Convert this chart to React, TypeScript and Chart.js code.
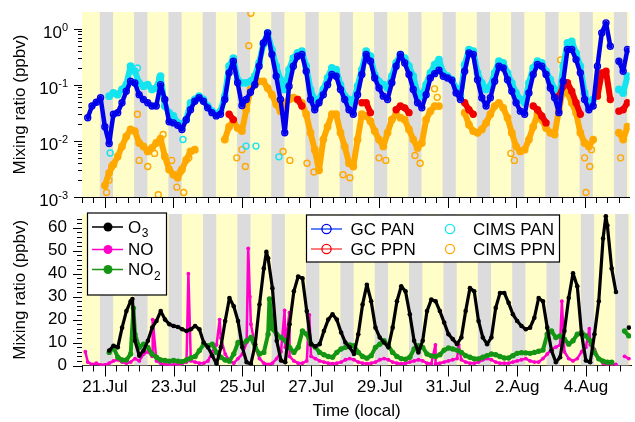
import { useEffect, useRef } from "react";
import { Chart, registerables } from "chart.js";

Chart.register(...registerables);

const FONT = "'Liberation Sans', Arial, Helvetica, sans-serif";

// Time axis: days since 21 Jul 00:00 (local time)
const X_MIN = -0.667;
const X_MAX = 15.313;
const T0 = -0.5; // first sample: 20 Jul 12:00
const DT = 0.125; // 3-hour sampling

const xTickDays = [0, 2, 4, 6, 8, 10, 12, 14];
const xTickLabels = ["21.Jul", "23.Jul", "25.Jul", "27.Jul", "29.Jul", "31.Jul", "2.Aug", "4.Aug"];
const logTickExps = [0, -1, -2, -3];
const linTicks = [0, 10, 20, 30, 40, 50, 60];
const NIGHT_START_H = 20.5;
const NIGHT_END_H = 5.75;

const n = null;

// ---- top panel (ppbv, log) ----
const gcPan = [
  0.026, 0.042, 0.049, 0.059, 0.018, 0.009, 0.030, 0.032, 0.048, 0.077,
  0.116, 0.108, 0.067, 0.055, 0.048, 0.042, 0.042, 0.101, 0.055, 0.022,
  0.021, 0.019, 0.016, 0.024, 0.036, 0.051, 0.059, 0.051, 0.039, 0.032,
  0.028, 0.030, 0.055, 0.164, 0.265, 0.109, 0.043, 0.055, 0.074, 0.101,
  0.216, 0.562, 0.848, 0.348, 0.143, 0.055, 0.014, 0.095, 0.216, 0.325,
  0.348, 0.175, 0.055, 0.036, 0.048, 0.067, 0.101, 0.153, 0.143, 0.083,
  0.055, 0.036, 0.030, 0.067, 0.153, 0.348, 0.265, 0.133, 0.088, 0.063,
  0.055, 0.109, 0.216, 0.348, 0.247, 0.153, 0.083, 0.048, 0.039, 0.067,
  0.133, 0.159, 0.183, 0.143, 0.133, 0.121, 0.072, 0.055, 0.175, 0.373,
  0.348, 0.124, 0.059, 0.042, 0.059, 0.116, 0.216, 0.201, 0.124, 0.077,
  0.048, 0.034, 0.030, 0.072, 0.153, 0.231, 0.216, 0.153, 0.088, 0.059,
  0.032, 0.116, 0.428, 0.428, 0.283, 0.164, 0.055, 0.036, 0.042, 0.216,
  0.848, 1.28, 0.49, n, 0.265, 0.175, 0.428,
];

const gcPpn = [
  n, n, n, n, n, n, n, n, n, n,
  n, n, n, n, n, n, n, n, n, n,
  n, n, n, n, n, n, n, n, n, n,
  n, n, n, 0.030, 0.024, n, n, n, n, n,
  n, n, n, n, n, n, n, n, n, 0.055,
  0.042, n, n, n, n, n, n, n, n, n,
  n, n, n, n, 0.048, 0.048, 0.032, n, n, n,
  n, n, 0.036, 0.042, 0.039, 0.032, n, n, n, n,
  n, n, n, n, n, n, n, n, 0.048, 0.036,
  0.030, n, n, n, n, n, n, n, n, n,
  n, n, n, n, 0.042, 0.036, 0.028, 0.021, n, n,
  0.063, 0.095, 0.109, 0.077, 0.048, 0.030, n, n, n, 0.063,
  0.164, 0.175, 0.055, n, 0.034, 0.036, 0.048,
];

const cimsPan = [
  n, n, n, n, n, 0.063, 0.072, 0.067, 0.083, 0.101,
  0.216, 0.175, 0.109, 0.095, 0.101, 0.083, 0.088, 0.143, 0.042, 0.032,
  0.028, 0.021, 0.020, 0.024, 0.048, 0.055, 0.063, 0.055, 0.042, 0.034,
  0.030, 0.034, 0.063, 0.216, 0.300, 0.124, 0.109, 0.109, 0.116, 0.143,
  0.247, 0.525, 0.848, 0.428, 0.216, 0.124, 0.083, 0.188, 0.300, 0.373,
  0.400, 0.216, 0.083, 0.055, 0.055, 0.083, 0.133, 0.201, 0.188, 0.101,
  0.063, 0.055, 0.048, 0.095, 0.188, 0.400, 0.325, 0.153, 0.116, 0.101,
  0.088, 0.143, 0.247, 0.348, 0.300, 0.216, 0.143, 0.072, 0.063, 0.101,
  0.164, 0.231, 0.283, 0.164, 0.143, 0.124, 0.088, 0.063, 0.231, 0.428,
  0.400, 0.164, 0.109, 0.083, 0.095, 0.164, 0.265, 0.247, 0.164, 0.109,
  0.072, 0.055, 0.048, 0.109, 0.201, 0.265, 0.247, 0.175, 0.124, 0.083,
  0.055, 0.216, 0.562, 0.600, 0.373, 0.216, 0.072, 0.042, 0.055, n,
  n, n, n, n, 0.083, 0.072, 0.143,
];
const cimsPanOut = [[0.155, 0.0061], [2.28, 0.0106], [4.12, 0.0081], [4.41, 0.0081], [5.08, 0.0052], [0.95, 0.2], [1.6, 0.13]];

const cimsPpn = [
  n, n, n, n, 0.0016, 0.0027, 0.0038, 0.0053, 0.008, 0.012,
  0.016, 0.015, 0.0092, 0.008, 0.0065, 0.0075, 0.0092, 0.011, 0.0053, 0.0031,
  0.0025, 0.0022, 0.0031, 0.0046, 0.0065, 0.007, n, n, n, n,
  n, n, 0.0106, 0.018, 0.0225, 0.017, 0.015, 0.036, 0.083, 0.101,
  0.116, 0.116, 0.088, 0.067, 0.045, 0.034, 0.048, 0.055, 0.059, 0.055,
  0.048, 0.030, 0.014, 0.007, 0.003, 0.0106, 0.018, 0.030, 0.030, 0.014,
  0.008, 0.004, 0.0035, 0.0106, 0.030, 0.028, 0.0225, 0.015, 0.0106, 0.008,
  0.014, 0.024, 0.030, 0.026, 0.024, 0.016, 0.0106, 0.0075, 0.0092, 0.024,
  0.034, 0.042, 0.042, n, n, n, n, n, 0.032, 0.0195,
  0.015, 0.014, 0.016, 0.021, 0.030, 0.042, 0.048, 0.039, 0.026, 0.014,
  0.008, 0.0065, 0.007, 0.0106, 0.018, 0.030, 0.024, 0.017, 0.014, 0.013,
  0.036, 0.083, 0.072, 0.048, 0.032, 0.014, 0.0092, 0.008, 0.0106, n,
  n, n, n, n, 0.014, 0.0106, 0.018,
];
const cimsPpnOut = [
  [4.26, 1.9], [4.2, 0.5], [1.56, 0.0011], [2.3, 0.0012], [14.04, 0.0012], [13.3, 0.28], [9.62, 0.085], [9.7, 0.06],
  [0.05, 0.0012], [0.12, 0.002], [0.2, 0.0035], [0.95, 0.03], [1.0, 0.0045], [1.25, 0.0035], [1.45, 0.006],
  [1.7, 0.013], [1.95, 0.0045], [2.1, 0.0015], [2.2, 0.0028], [2.45, 0.005], [3.85, 0.005], [4.0, 0.007],
  [4.1, 0.0035], [5.2, 0.0065], [5.4, 0.0045], [5.9, 0.004], [6.1, 0.0028], [6.95, 0.0025], [7.15, 0.0022],
  [8.0, 0.005], [8.2, 0.0045], [9.05, 0.0055], [9.2, 0.004], [11.85, 0.006], [11.95, 0.0045], [14.0, 0.005],
  [14.15, 0.0035], [14.2, 0.007], [15.05, 0.005],
];

// ---- bottom panel (ppbv, linear) ----
const o3 = [
  n, n, n, n, n, 6.5, 8.6, 7.9, 16.5, 23.7,
  28, 10.8, 4.3, 6.5, 10.8, 16.5, 19.4, 23.7, 20, 18,
  17.2, 16.8, 15.8, 15, 15.8, 17.2, 15.8, 10, 7.9, 4.3,
  0.7, 7.9, 19.4, 29.4, 25.8, 19.4, 7.9, 1.4, 0.7, 9.3,
  26.6, 42.3, 46.7, 33.7, 10.8, 2.2, 1.4, 18, 32.3, 38.8,
  38, 23.7, 9.3, 8.3, 9.3, 15, 20, 22.3, 20, 14.4,
  10, 7.9, 5, 13.6, 26.6, 35.2, 28, 16.5, 12.2, 10,
  7.9, 16.5, 28, 34.5, 32.3, 22.3, 10.8, 5.7, 10.8, 23.7,
  28.7, 28, 23.7, 18.7, 13.6, 11.5, 9.3, 12.2, 23.7, 33.7,
  32.3, 19.4, 12.2, 9.3, 12.2, 25.1, 31.6, 31.6, 27.3, 22.3,
  19.4, 17.2, 15.8, 16.5, 20.8, 29.4, 28, 16.5, 6.5, 1.4,
  3.6, 15, 29.4, 40.2, 34.5, 13.6, 2.2, 1.4, 13.6, 28,
  55.3, 61, 42.3, 32, n, n, 16.5,
];
const o3Peaks = [[0.8, 29], [4.7, 49.5], [14.58, 65]];

const no = [
  1.5, 0.5, 1, 0.3, 0.3, 1, 2, 2.5, 1.5, 1,
  1.5, 3, 2, 5, 6, 4, 2, 1, 0.5, 0.3,
  0.3, 0.5, 1, 1.5, 2, 1.5, 1, 1, 2, 6,
  9, 12, 5, 2, 1, 3, 5, 10, 18, 8,
  3, 1, 0.5, 1, 3, 6, 8, 4, 2, 1,
  1, 2, 4, 3, 2, 1.5, 1, 0.8, 1, 1.5,
  2.5, 3, 2.5, 1.5, 1, 0.8, 1, 1.5, 2.5, 3,
  2.5, 1.5, 1, 0.8, 1, 1.5, 2, 2.5, 2, 1,
  0.8, 0.8, 1, 1.5, 2, 2.5, 3, 2.5, 1.5, 1,
  1, 1.5, 2.5, 3, 2.5, 1.5, 1, 1, 1, 1.5,
  2, 2.5, 3, 2, 1.5, 1.5, 3, 5, 7, 8,
  9, 6, 3, 2, 3, 6, 8, 9, 7, 3,
  1, 0.5, 0.5, 0.5, n, 4, 3,
];
const noSpikes = [[-0.57, 6], [1.39, 20], [2.43, 40], [3.34, 20], [4.17, 51], [4.22, 30], [5.23, 24], [5.37, 23], [5.95, 22], [9.62, 9], [10.3, 9], [13.3, 28], [14.1, 16]];

const no2 = [
  n, n, n, n, n, 5.7, 7.9, 3.6, 2.4, 2.4,
  5, 13.6, 7.9, 9.3, 7.9, 5, 3.6, 2.4, 2.2, 1.9,
  2.2, 1.9, 1.7, 2.4, 3.3, 3.9, 6.5, 9.3, 8.6, 9.3,
  5.7, 3.6, 2.4, 1.9, 5, 10, 9.3, 10.8, 12.2, 7.9,
  5, 5.7, 13.6, 16, 13.6, 12.2, 10.8, 7.9, 5.7, 7.9,
  15, 13.6, 9.3, 7.9, 5.7, 4.7, 3.9, 3.6, 5.7, 7.2,
  7.9, 9, 8.6, 5.7, 3.9, 3.2, 4.3, 7.9, 9.3, 10.8,
  8.6, 5.7, 3.9, 3, 2.7, 3.6, 7.2, 8.6, 7.9, 5,
  4.2, 3.9, 4.7, 6.7, 7.6, 7.2, 6.7, 5.7, 4.3, 3.6,
  2.9, 2.9, 3.6, 4.3, 5, 4.7, 3.9, 3.3, 3.3, 4.3,
  5.3, 5.6, 5.5, 5.3, 5.7, 6.2, 6.7, 13.6, 15, 12.2,
  12.9, 11.5, 9.3, 10.8, 13.6, 14.4, 12.9, 10.8, 5.7, 2.9,
  1.9, 1.4, 1.4, n, n, 15, 12.9,
];
const no2Spikes = [[0.83, 25], [4.79, 29]];

const BLUE = "rgb(0,0,235)";
const RED = "rgb(240,0,0)";
const CYAN = "rgb(20,228,240)";
const ORANGE = "rgb(255,168,0)";
const BLACK = "#000";
const MAGENTA = "rgb(255,0,200)";
const GREEN = "rgb(20,150,20)";
const DAY_COLOR = "rgb(255,253,200)";
const NIGHT_COLOR = "rgb(220,220,220)";

function toPoints(vals: (number | null)[], extra: number[][] = []) {
  const pts = vals.map((v, i) => ({ x: T0 + i * DT, y: v }));
  for (const [x, y] of extra) pts.push({ x, y });
  pts.sort((a, b) => a.x - b.x);
  return pts;
}
function extraPoints(extra: number[][]) {
  return extra.map(([x, y]) => ({ x, y }));
}

const bandsPlugin = {
  id: "bands",
  beforeDatasetsDraw(chart: any) {
    const { ctx, chartArea: a, scales } = chart;
    const x = scales.x;
    ctx.save();
    ctx.beginPath();
    ctx.rect(a.left, a.top, a.right - a.left, a.bottom - a.top);
    ctx.clip();
    ctx.fillStyle = DAY_COLOR;
    ctx.fillRect(a.left, a.top, a.right - a.left, a.bottom - a.top);
    ctx.fillStyle = NIGHT_COLOR;
    for (let d = -2; d <= 16; d++) {
      const s = x.getPixelForValue(d + NIGHT_START_H / 24);
      const e = x.getPixelForValue(d + 1 + NIGHT_END_H / 24);
      ctx.fillRect(s, a.top, e - s, a.bottom - a.top);
    }
    ctx.restore();
  },
};

function makeTicksPlugin(yMajor: number[], yMinor: number[], yMajLen: number, yMinLen: number) {
  return {
    id: "ticksMarks",
    afterDraw(chart: any) {
      const { ctx, chartArea: a, scales } = chart;
      ctx.save();
      ctx.strokeStyle = "#000";
      ctx.lineWidth = 1;
      ctx.beginPath();
      const k0 = Math.ceil(X_MIN * 3);
      const k1 = Math.floor(X_MAX * 3);
      for (let k = k0; k <= k1; k++) {
        const px = Math.round(scales.x.getPixelForValue(k / 3)) + 0.5;
        const len = k % 6 === 0 ? 11 : 6;
        ctx.moveTo(px, a.bottom);
        ctx.lineTo(px, a.bottom + len);
      }
      for (const v of yMajor) {
        const py = Math.round(scales.y.getPixelForValue(v)) + 0.5;
        ctx.moveTo(a.left, py);
        ctx.lineTo(a.left - yMajLen, py);
      }
      for (const v of yMinor) {
        const py = Math.round(scales.y.getPixelForValue(v)) + 0.5;
        ctx.moveTo(a.left, py);
        ctx.lineTo(a.left - yMinLen, py);
      }
      ctx.stroke();
      ctx.restore();
    },
  };
}

const logLabelsPlugin = {
  id: "logLabels",
  afterDraw(chart: any) {
    const { ctx, scales, chartArea } = chart;
    ctx.save();
    ctx.fillStyle = "#000";
    ctx.textBaseline = "middle";
    const right = chartArea.left - 14;
    for (const e of logTickExps) {
      const py = scales.y.getPixelForValue(Math.pow(10, e));
      const ex = String(e);
      ctx.font = `11px ${FONT}`;
      const ew = ctx.measureText(ex).width;
      ctx.textAlign = "left";
      ctx.fillText(ex, right - ew, py - 1);
      ctx.font = `17px ${FONT}`;
      ctx.textAlign = "right";
      ctx.fillText("10", right - ew, py + 4.5);
    }
    ctx.restore();
  },
};

const legendLeft = [
  { base: "O", sub: "3", color: BLACK },
  { base: "NO", sub: "", color: MAGENTA },
  { base: "NO", sub: "2", color: GREEN },
];
const legendRight = [
  { label: "GC PAN", color: BLUE, line: "rgb(40,90,255)" },
  { label: "GC PPN", color: RED, line: "rgb(255,80,80)" },
  { label: "CIMS PAN", color: CYAN, line: "" },
  { label: "CIMS PPN", color: ORANGE, line: "" },
];

const legendPlugin = {
  id: "legends",
  afterDraw(chart: any) {
    const { ctx } = chart;
    ctx.save();
    // left legend
    ctx.fillStyle = "#fff";
    ctx.fillRect(87.5, 3, 79, 82);
    ctx.strokeStyle = "#000";
    ctx.lineWidth = 1.2;
    ctx.strokeRect(87.5, 3, 79, 82);
    const rowsL = [17, 39.5, 59.5];
    legendLeft.forEach((it, i) => {
      const y = rowsL[i];
      ctx.strokeStyle = it.color;
      ctx.lineWidth = 1.5;
      ctx.beginPath();
      ctx.moveTo(92, y);
      ctx.lineTo(123, y);
      ctx.stroke();
      ctx.fillStyle = it.color;
      ctx.beginPath();
      ctx.arc(108, y, 4.5, 0, Math.PI * 2);
      ctx.fill();
      ctx.fillStyle = "#000";
      ctx.font = `17px ${FONT}`;
      ctx.textAlign = "left";
      ctx.textBaseline = "middle";
      ctx.fillText(it.base, 128, y + 1);
      if (it.sub) {
        const w = ctx.measureText(it.base).width;
        ctx.font = `12px ${FONT}`;
        ctx.fillText(it.sub, 128 + w + 0.5, y + 7);
      }
    });
    // right legend
    ctx.fillStyle = "#fff";
    ctx.fillRect(306.5, 5, 253, 47);
    ctx.strokeStyle = "#000";
    ctx.lineWidth = 1.2;
    ctx.strokeRect(306.5, 5, 253, 47);
    const rowsR = [19, 39];
    legendRight.forEach((it, i) => {
      const y = rowsR[i % 2];
      const col = i < 2 ? 0 : 1;
      const cx = col === 0 ? 326.5 : 450;
      const tx = col === 0 ? 350.5 : 473;
      if (it.line) {
        ctx.strokeStyle = it.line;
        ctx.lineWidth = 1.5;
        ctx.beginPath();
        ctx.moveTo(311, y);
        ctx.lineTo(342, y);
        ctx.stroke();
      }
      ctx.strokeStyle = it.color;
      ctx.lineWidth = 1.3;
      ctx.beginPath();
      ctx.arc(cx, y, 4.6, 0, Math.PI * 2);
      ctx.stroke();
      ctx.fillStyle = "#000";
      ctx.font = `17px ${FONT}`;
      ctx.textAlign = "left";
      ctx.textBaseline = "middle";
      ctx.fillText(it.label, tx, y + 1);
    });
    ctx.restore();
  },
};

const logMinor: number[] = [];
for (const e of [-3, -2, -1]) for (let m = 2; m <= 9; m++) logMinor.push(m * Math.pow(10, e));
const linMinor: number[] = [];
for (let v = 2; v <= 64; v += 2) if (v % 10 !== 0) linMinor.push(v);

const band = (color: string, lineW: number, r: number, show: boolean) => ({
  borderColor: color,
  backgroundColor: "rgba(0,0,0,0)",
  pointBorderColor: color,
  pointBackgroundColor: "rgba(0,0,0,0)",
  pointRadius: r,
  pointBorderWidth: 1.4,
  borderWidth: lineW,
  showLine: show,
  borderJoinStyle: "round",
  borderCapStyle: "round",
});

const solid = (color: string, lineW: number, r: number) => ({
  borderColor: color,
  backgroundColor: color,
  pointBackgroundColor: color,
  pointBorderColor: color,
  pointBorderWidth: 0,
  pointRadius: r,
  borderWidth: lineW,
  borderJoinStyle: "round",
  borderCapStyle: "round",
});

const commonX = {
  type: "linear",
  min: X_MIN,
  max: X_MAX,
  grid: { display: false, drawTicks: false },
  border: { display: true, color: "#000", width: 1 },
};

function topConfig(): any {
  return {
    type: "line",
    data: {
      datasets: [
        { label: "GC PAN", data: toPoints(gcPan), ...band(BLUE, 4.5, 3, true) },
        { label: "GC PPN", data: toPoints(gcPpn), ...band(RED, 6, 3, true) },
        { label: "CIMS PAN", data: toPoints(cimsPan), ...band(CYAN, 6, 3.2, true) },
        { label: "CIMS PAN (scatter)", data: extraPoints(cimsPanOut), ...band(CYAN, 1, 3, false) },
        { label: "CIMS PPN", data: toPoints(cimsPpn), ...band(ORANGE, 6, 3.2, true) },
        { label: "CIMS PPN (scatter)", data: extraPoints(cimsPpnOut), ...band(ORANGE, 1, 3, false) },
      ],
    },
    options: {
      animation: false,
      responsive: true,
      maintainAspectRatio: false,
      events: [],
      layout: { padding: { top: 12, right: 2, left: 0, bottom: 0 } },
      plugins: { legend: { display: false }, tooltip: { enabled: false } },
      scales: {
        x: {
          ...commonX,
          ticks: { display: false },
          afterFit: (s: any) => { s.height = 13; s.paddingLeft = 0; s.paddingRight = 0; },
        },
        y: {
          type: "logarithmic",
          min: 0.001,
          max: 2,
          ticks: { display: false },
          grid: { display: false, drawTicks: false },
          border: { display: true, color: "#000", width: 1 },
          title: { display: true, text: "Mixing ratio (ppbv)", color: "#000", font: { size: 17, family: FONT }, padding: { top: 10, bottom: 0 } },
          afterFit: (s: any) => { s.width = 82; s.paddingTop = 0; s.paddingBottom = 0; },
        },
      },
    },
    plugins: [bandsPlugin, makeTicksPlugin(logTickExps.map((e) => Math.pow(10, e)), logMinor, 8, 4), logLabelsPlugin],
  };
}

function bottomConfig(): any {
  return {
    type: "line",
    data: {
      datasets: [
        { label: "O3", data: toPoints(o3, o3Peaks), ...solid(BLACK, 3.2, 2.3) },
        { label: "NO2", data: toPoints(no2, no2Spikes), ...solid(GREEN, 4, 2.7) },
        { label: "NO", data: toPoints(no, noSpikes), ...solid(MAGENTA, 2.5, 1.9) },
      ],
    },
    options: {
      animation: false,
      responsive: true,
      maintainAspectRatio: false,
      events: [],
      layout: { padding: { top: 1.7, right: 2, left: 0, bottom: 0 } },
      plugins: { legend: { display: false }, tooltip: { enabled: false } },
      scales: {
        x: {
          ...commonX,
          afterBuildTicks: (s: any) => { s.ticks = xTickDays.map((v) => ({ value: v })); },
          ticks: {
            display: true,
            autoSkip: false,
            maxRotation: 0,
            color: "#000",
            padding: 12,
            font: { size: 17, family: FONT },
            callback: (_v: any, i: number) => xTickLabels[i],
          },
          title: { display: true, text: "Time (local)", color: "#000", font: { size: 17, family: FONT }, padding: { top: 0, bottom: 0 } },
          afterFit: (s: any) => { s.height = 56.5; s.paddingLeft = 0; s.paddingRight = 0; },
        },
        y: {
          type: "linear",
          min: 0,
          max: 66,
          afterBuildTicks: (s: any) => { s.ticks = linTicks.map((v) => ({ value: v })); },
          ticks: { color: "#000", padding: 15, font: { size: 17, family: FONT } },
          grid: { display: false, drawTicks: false },
          border: { display: true, color: "#000", width: 1 },
          title: { display: true, text: "Mixing ratio (ppbv)", color: "#000", font: { size: 17, family: FONT }, padding: { top: 10, bottom: 0 } },
          afterFit: (s: any) => { s.width = 82; s.paddingTop = 0; s.paddingBottom = 0; },
        },
      },
    },
    plugins: [bandsPlugin, makeTicksPlugin(linTicks, linMinor, 9, 5), legendPlugin],
  };
}

export default function App() {
  const topRef = useRef<HTMLCanvasElement>(null);
  const botRef = useRef<HTMLCanvasElement>(null);
  useEffect(() => {
    Chart.defaults.font.family = FONT;
    const c1 = new Chart(topRef.current as HTMLCanvasElement, topConfig());
    const c2 = new Chart(botRef.current as HTMLCanvasElement, bottomConfig());
    return () => {
      c1.destroy();
      c2.destroy();
    };
  }, []);
  return (
    <div style={{ position: "absolute", left: 0, top: 0, width: 635, height: 422, background: "#fff" }}>
      <div style={{ position: "absolute", left: 0, top: 0, width: 635, height: 210 }}>
        <canvas ref={topRef} />
      </div>
      <div style={{ position: "absolute", left: 0, top: 210, width: 635, height: 212 }}>
        <canvas ref={botRef} />
      </div>
    </div>
  );
}
